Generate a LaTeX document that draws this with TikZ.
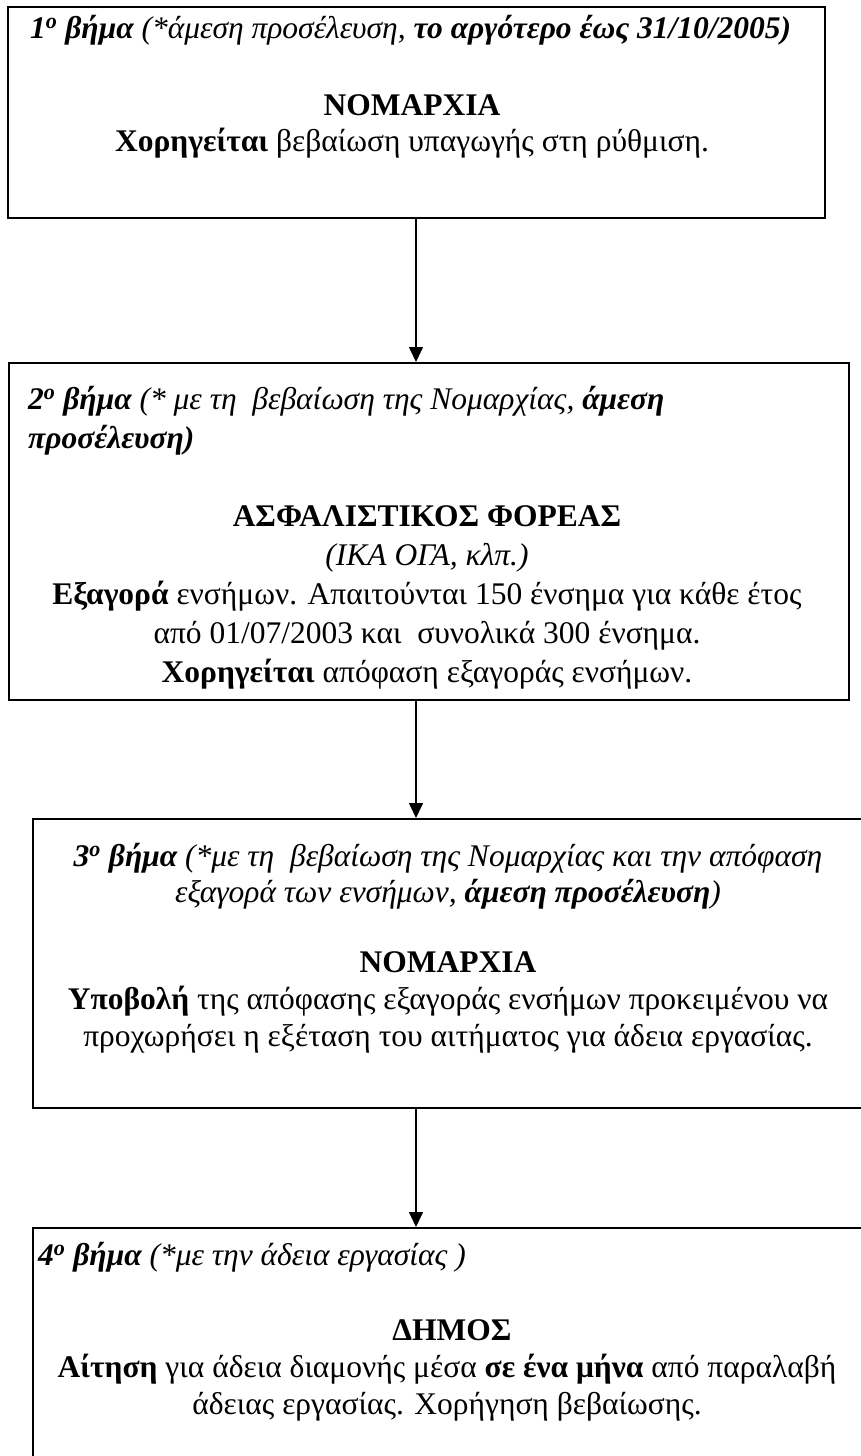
\documentclass[tikz,border=0pt]{standalone}
\usepackage{fontspec}
\setmainfont{Liberation Serif}
\usetikzlibrary{arrows.meta}
\begin{document}
\begin{tikzpicture}[x=1pt,y=-1pt,
  boxst/.style={draw, line width=2pt, inner sep=0pt, anchor=north west},
  tl/.style={inner sep=0pt, anchor=base west, font=\fontsize{31.5}{36}\selectfont},
  tc/.style={inner sep=0pt, anchor=base, font=\fontsize{31.5}{36}\selectfont},
  arr/.style={line width=1.6pt, -{Triangle[length=15pt,width=14pt]}}]
\useasboundingbox (0,0) rectangle (861,1456);
\clip (0,0) rectangle (861,1456);
\fill[white] (0,0) rectangle (861,1456);
% boxes
\node[boxst, minimum width=817pt, minimum height=211pt] (b1) at (7,6) {};
\node[boxst, minimum width=840pt, minimum height=337pt] (b2) at (8,362) {};
\node[boxst, minimum width=860pt, minimum height=289pt] (b3) at (32,818) {};
\node[boxst, minimum width=860pt, minimum height=260pt] (b4) at (32,1227) {};
% arrows
\coordinate (ax) at (416,0);
\draw[arr] (b1.south -| ax) -- (b2.north -| ax);
\draw[arr] (b2.south -| ax) -- (b3.north -| ax);
\draw[arr] (b3.south -| ax) -- (b4.north -| ax);
% box 1
\node[tl] (t11) at (30,38) {\bfseries\itshape 1\textsuperscript{o} βήμα \mdseries(*άμεση προσέλευση, \bfseries το αργότερο έως 31/10/2005)};
\node[tc] (t12) at (412,115) {\bfseries ΝΟΜΑΡΧΙΑ};
\node[tc] (t13) at (412,151) {\bfseries Χορηγείται \mdseries βεβαίωση υπαγωγής στη ρύθμιση.};
% box 2
\node[tl] (t21) at (28,409) {\bfseries\itshape 2\textsuperscript{o} βήμα \mdseries(* με τη\ \ βεβαίωση της Νομαρχίας, \bfseries άμεση};
\node[tl] (t22) at (28,448) {\bfseries\itshape προσέλευση)};
\node[tc] (t23) at (427,526) {\bfseries ΑΣΦΑΛΙΣΤΙΚΟΣ ΦΟΡΕΑΣ};
\node[tc] (t24) at (427,565) {\itshape (ΙΚΑ ΟΓΑ, κλπ.)};
\node[tc] (t25) at (427,604) {\bfseries Εξαγορά \mdseries ενσήμων. Απαιτούνται 150 ένσημα για κάθε έτος};
\node[tc] (t26) at (427,643) {από 01/07/2003 και\ \ συνολικά 300 ένσημα.};
\node[tc] (t27) at (427,682) {\bfseries Χορηγείται \mdseries απόφαση εξαγοράς ενσήμων.};
% box 3
\node[tc] (t31) at (448,866) {\bfseries\itshape 3\textsuperscript{o} βήμα \mdseries(*με τη\ \ βεβαίωση της Νομαρχίας και την απόφαση};
\node[tc] (t32) at (448,902) {\itshape εξαγορά των ενσήμων, \bfseries άμεση προσέλευση\mdseries)};
\node[tc] (t33) at (448,972) {\bfseries ΝΟΜΑΡΧΙΑ};
\node[tc] (t34) at (448,1009) {\bfseries Υποβολή \mdseries της απόφασης εξαγοράς ενσήμων προκειμένου να};
\node[tc] (t35) at (448,1046) {προχωρήσει η εξέταση του αιτήματος για άδεια εργασίας.};
% box 4
\node[tl] (t41) at (38,1265) {\bfseries\itshape 4\textsuperscript{o} βήμα \mdseries(*με την άδεια εργασίας )};
\node[tc] (t42) at (452,1340) {\bfseries ΔΗΜΟΣ};
\node[tc] (t43) at (447,1377) {\bfseries Αίτηση \mdseries για άδεια διαμονής μέσα \bfseries σε ένα μήνα \mdseries από παραλαβή};
\node[tc] (t44) at (447,1414) {άδειας εργασίας. Χορήγηση βεβαίωσης.};
\end{tikzpicture}
\end{document}
